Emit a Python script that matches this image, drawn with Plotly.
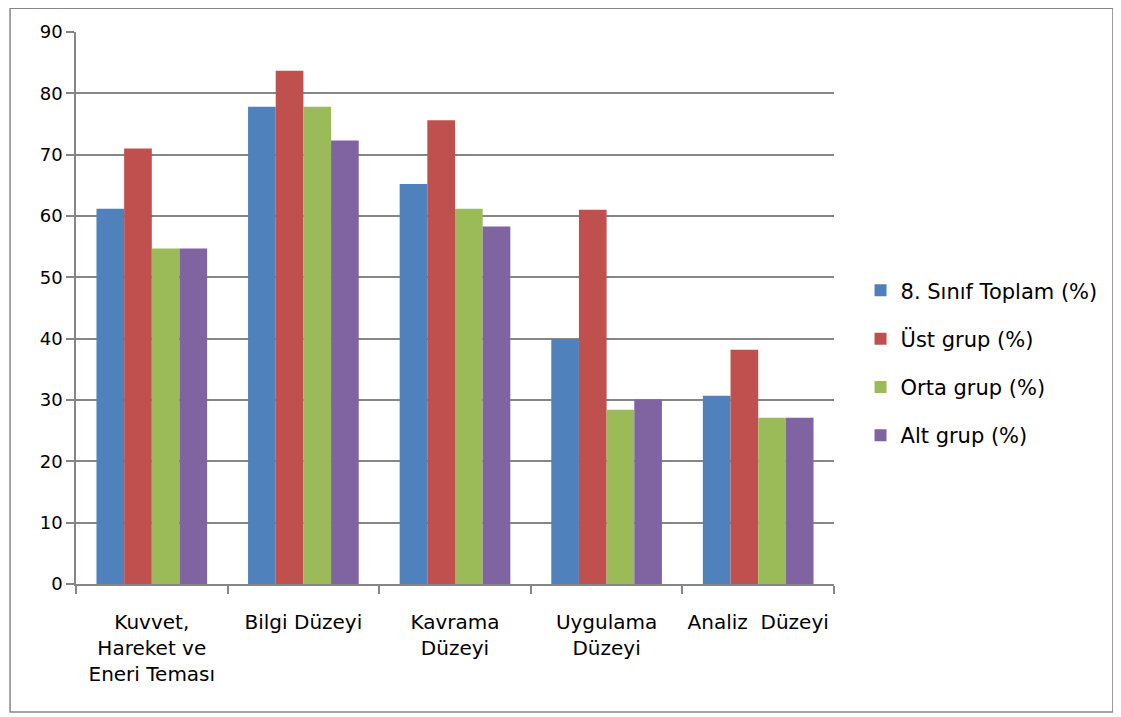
import plotly.graph_objects as go

categories = ["Kuvvet,<br>Hareket ve<br>Eneri Teması", "Bilgi Düzeyi", "Kavrama<br>Düzeyi",
              "Uygulama<br>Düzeyi", "Analiz  Düzeyi"]
series_names = ["8. Sınıf Toplam (%)", "Üst grup (%)", "Orta grup (%)", "Alt grup (%)"]
toplam = [61.2, 77.8, 65.2, 39.9, 30.7]
ust = [71.0, 83.7, 75.6, 61.0, 38.2]
orta = [54.7, 77.8, 61.2, 28.4, 27.1]
alt = [54.7, 72.3, 58.3, 30.1, 27.1]
colors = ["#4F81BD", "#C0504D", "#9BBB59", "#8064A2"]
y_ticks = [0, 10, 20, 30, 40, 50, 60, 70, 80, 90]

fig = go.Figure()
for i, (name, vals) in enumerate(zip(series_names, [toplam, ust, orta, alt])):
    fig.add_trace(go.Bar(x=categories, y=vals, name=name, marker_color=colors[i],
                         marker_line_width=0, legendgroup=f"g{i}"))

font_family = "'DejaVu Sans', sans-serif"
fig.update_layout(
    width=1107, height=705,
    margin=dict(l=68, r=281, t=24, b=129),
    paper_bgcolor="white", plot_bgcolor="white",
    barmode="group", bargap=0.27, bargroupgap=0,
    font=dict(family=font_family, size=20, color="black"),
    showlegend=True,
    legend=dict(x=1.035, y=0.40, xanchor="left", yanchor="middle",
                font=dict(size=21), tracegroupgap=18, bgcolor="rgba(0,0,0,0)"),
    xaxis=dict(showline=True, linecolor="#868686", linewidth=1.5,
               ticks="outside", tickson="boundaries", ticklen=8, tickcolor="#868686",
               tickwidth=1.5, showgrid=False, tickfont=dict(size=20),
               ticklabelstandoff=19),
    yaxis=dict(range=[0, 90], tickvals=y_ticks, showline=True, linecolor="#868686",
               linewidth=1.5, ticks="outside", ticklen=8, tickcolor="#868686", tickwidth=1.5,
               showgrid=True, gridcolor="#868686", gridwidth=1.5, zeroline=False,
               tickfont=dict(size=18)),
    shapes=[dict(type="rect", xref="paper", yref="paper",
                 x0=-0.087, x1=1.368, y0=-0.232, y1=1.043,
                 line=dict(color="#868686", width=1.5), fillcolor="rgba(0,0,0,0)")],
)

fig.write_html("out.html")
